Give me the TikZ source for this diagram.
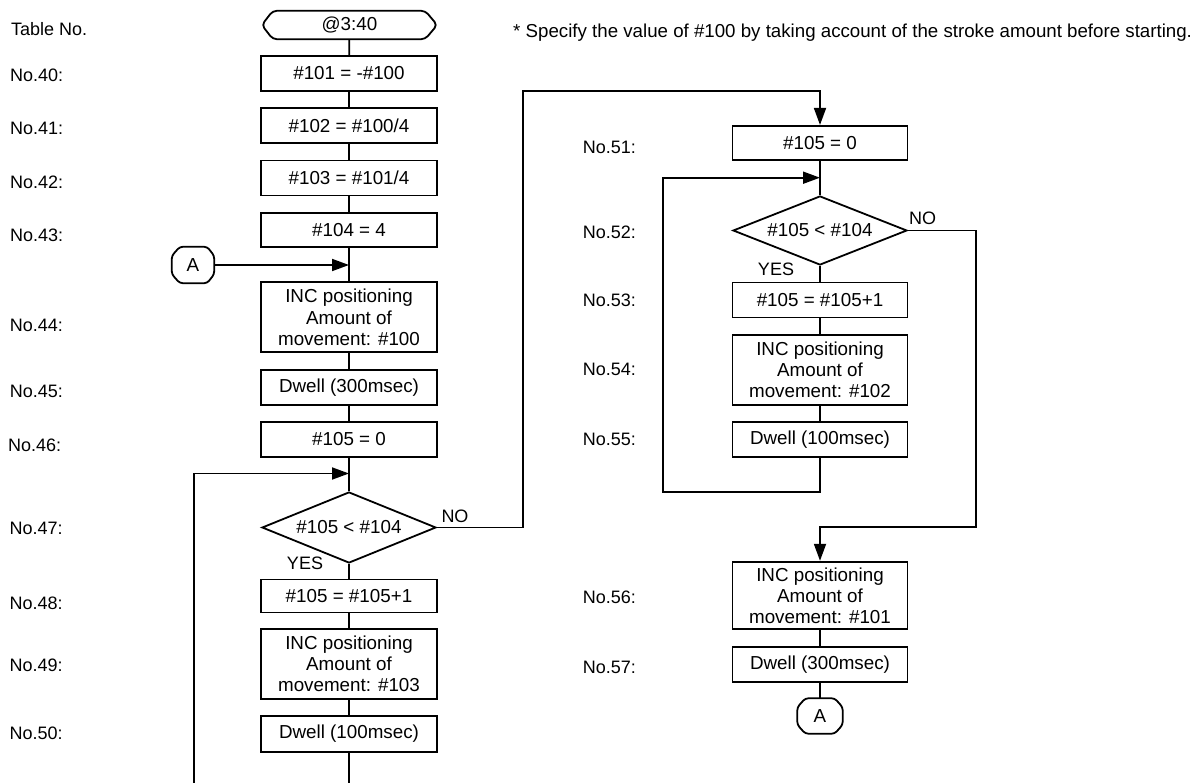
\documentclass[tikz,border=0pt]{standalone}
\usepackage{fontspec}
\setmainfont{Liberation Sans}
\usetikzlibrary{arrows.meta,shapes.geometric,calc}
\begin{document}
\begin{tikzpicture}[x=1pt,y=-1pt,
  font=\fontsize{18}{21}\selectfont,
  lw/.style={line width=1.8pt},
  arr/.style={line width=1.8pt,-{Triangle[length=17pt,width=12pt]}},
  boxfont/.style={font=\fontsize{18.8}{21.2}\selectfont},
  proc/.style={draw,line width=1.8pt,minimum width=176pt,inner sep=0pt,align=center,boxfont},
  dec/.style={draw,line width=1.8pt,diamond,minimum width=174pt,minimum height=70pt,inner sep=0pt,aspect=2.45,boxfont},
  lab/.style={anchor=base west,inner sep=0pt},
  yn/.style={inner sep=0pt},
]
\useasboundingbox (0,0) rectangle (1195,783);

% ---- left labels
\node[lab] (lt) at (11,35.4) {Table No.};
\node[lab] (l40) at (10,81.4) {No.40:};
\node[lab] (l41) at (10,134.4) {No.41:};
\node[lab] (l42) at (10,188.4) {No.42:};
\node[lab] (l43) at (10,241.4) {No.43:};
\node[lab] (l44) at (9.7,331.4) {No.44:};
\node[lab] (l45) at (9.7,398) {No.45:};
\node[lab] (l46) at (8,452) {No.46:};
\node[lab] (l47) at (9.5,534.7) {No.47:};
\node[lab] (l48) at (9.5,609.7) {No.48:};
\node[lab] (l49) at (9.5,671.4) {No.49:};
\node[lab] (l50) at (9.5,739.7) {No.50:};
% ---- right labels
\node[lab] (l51) at (582.7,153.1) {No.51:};
\node[lab] (l52) at (582.7,238.1) {No.52:};
\node[lab] (l53) at (582.7,306.4) {No.53:};
\node[lab] (l54) at (582.7,375.7) {No.54:};
\node[lab] (l55) at (582.7,445.7) {No.55:};
\node[lab] (l56) at (582.7,603.1) {No.56:};
\node[lab] (l57) at (582.7,673.1) {No.57:};

\node[lab,font=\fontsize{18.7}{21}\selectfont] (note) at (513,37.5) {* Specify the value of \#100 by taking account of the stroke amount before starting.};

% ---- terminal
\node[minimum width=175pt,minimum height=28pt,inner sep=0pt,boxfont] (t) at (349.5,25) {@3:40};
\draw[lw,rounded corners=4pt] ($(t.north west)+(11,0)$) -- ($(t.north east)+(-12,0)$)
  -- (t.east) -- ($(t.south east)+(-12,0)$)
  -- ($(t.south west)+(11,0)$) -- (t.west) -- cycle;

% ---- left column
\node[proc,minimum height=35pt] (b40) at (349,73.5) {\#101 = -\#100};
\node[proc,minimum height=35pt] (b41) at (349,125.5) {\#102 = \#100/4};
\node[proc,minimum height=35pt] (b42) at (349,178) {\#103 = \#101/4};
\node[proc,minimum height=34pt] (b43) at (349,230) {\#104 = 4};
\node[proc,minimum height=70pt] (b44) at (349,317.3) {INC positioning\\Amount of\\movement: \#100};
\node[proc,minimum height=35pt] (b45) at (349,387.3) {Dwell (300msec)};
\node[proc,minimum height=35pt] (b46) at (349,439.5) {\#105 = 0};
\node[dec,minimum height=71pt] (d47) at (349,527.5) {\#105 < \#104};
\node[proc,minimum height=33pt] (b48) at (349,596) {\#105 = \#105+1};
\node[proc,minimum height=70pt] (b49) at (349,664) {INC positioning\\Amount of\\movement: \#103};
\node[proc,minimum height=35.5pt] (b50) at (349,734) {Dwell (100msec)};

\node[yn] (no47) at (455,516) {NO};
\node[yn] (yes47) at (305,563) {YES};

% connector A (left)
\node[minimum width=42pt,minimum height=36pt,inner sep=0pt,boxfont] (a1) at (193,265) {A};
\draw[lw,rounded corners=3pt] ($(a1.north west)+(8,0)$) -- ($(a1.north east)+(-7,0)$)
  -- ($(a1.north east)+(0,9)$) -- ($(a1.south east)+(0,-9)$)
  -- ($(a1.south east)+(-7,0)$) -- ($(a1.south west)+(8,0)$)
  -- ($(a1.south west)+(0,-9)$) -- ($(a1.north west)+(0,9)$) -- cycle;

% ---- right column
\node[proc,minimum width=175pt,minimum height=34.3pt] (b51) at (820,143) {\#105 = 0};
\node[dec,minimum height=69pt] (d52) at (820,230.5) {\#105 < \#104};
\node[proc,minimum width=175pt,minimum height=35pt] (b53) at (820,300) {\#105 = \#105+1};
\node[proc,minimum width=175pt,minimum height=70pt] (b54) at (820,370) {INC positioning\\Amount of\\movement: \#102};
\node[proc,minimum width=175pt,minimum height=35.5pt] (b55) at (820,439.5) {Dwell (100msec)};
\node[proc,minimum width=175pt,minimum height=67.6pt] (b56) at (820,595.5) {INC positioning\\Amount of\\movement: \#101};
\node[proc,minimum width=175pt,minimum height=35pt] (b57) at (820,664.3) {Dwell (300msec)};

\node[yn] (no52) at (922.5,218.3) {NO};
\node[yn] (yes52) at (776,269.3) {YES};

% connector A (right)
\node[minimum width=45pt,minimum height=35pt,inner sep=0pt,boxfont] (a2) at (820,716) {A};
\draw[lw,rounded corners=3pt] ($(a2.north west)+(8,0)$) -- ($(a2.north east)+(-8,0)$)
  -- ($(a2.north east)+(0,9)$) -- ($(a2.south east)+(0,-9)$)
  -- ($(a2.south east)+(-8,0)$) -- ($(a2.south west)+(8,0)$)
  -- ($(a2.south west)+(0,-9)$) -- ($(a2.north west)+(0,9)$) -- cycle;

% ---- coordinates
\coordinate (jA) at (349,265);
\coordinate (j47) at (349,473.5);
\coordinate (bot1) at (349,783);
\coordinate (bot2) at (194,783);
\coordinate (n1) at (523,90.7);
\coordinate (j52) at (820,177.7);
\coordinate (lp52) at (662.7,492.3);
\coordinate (n2) at (976,527.3);

% ---- connectors left
\draw[lw] (t) -- (b40);
\draw[lw] (b40) -- (b41);
\draw[lw] (b41) -- (b42);
\draw[lw] (b42) -- (b43);
\draw[lw] (b43) -- (b44);
\draw[arr] (a1) -- (jA);
\draw[lw] (b44) -- (b45);
\draw[lw] (b45) -- (b46);
\draw[lw] (b46) -- (d47);
\draw[arr] (bot2) |- (j47);
\draw[lw] (d47) -- (b48);
\draw[lw] (b48) -- (b49);
\draw[lw] (b49) -- (b50);
\draw[lw] (b50) -- (bot1);
\draw[arr] (d47.east) -| (n1) -| (b51.north);

% ---- connectors right
\draw[lw] (b51) -- (d52);
\draw[lw] (d52) -- (b53);
\draw[lw] (b53) -- (b54);
\draw[lw] (b54) -- (b55);
\draw[arr] (b55.south) |- (lp52) |- (j52);
\draw[arr] (d52.east) -| (n2) -| (b56.north);
\draw[lw] (b56) -- (b57);
\draw[lw] (b57) -- (a2);
\end{tikzpicture}
\end{document}
